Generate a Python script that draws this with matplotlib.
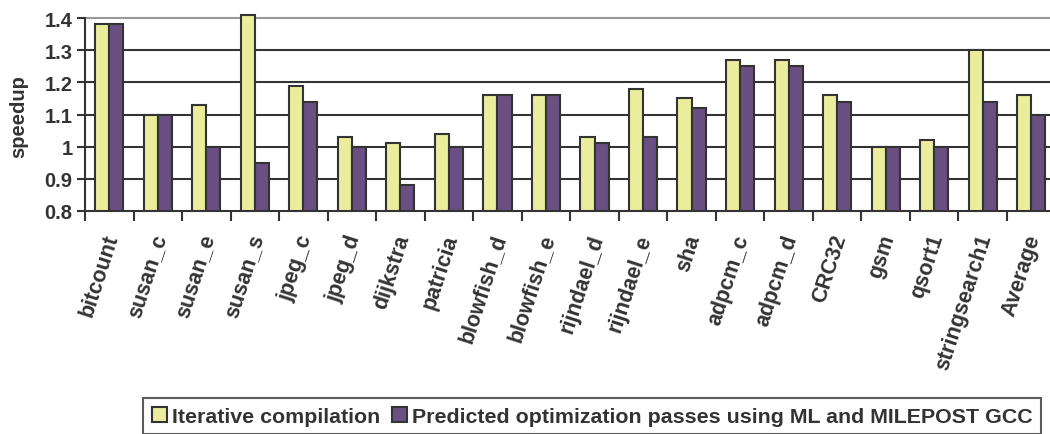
import matplotlib
matplotlib.use("Agg")
import matplotlib.pyplot as plt
import numpy as np
from matplotlib.patches import Patch
from matplotlib.transforms import ScaledTranslation

categories = ["bitcount", "susan_c", "susan_e", "susan_s", "jpeg_c", "jpeg_d",
              "dijkstra", "patricia", "blowfish_d", "blowfish_e", "rijndael_d",
              "rijndael_e", "sha", "adpcm_c", "adpcm_d", "CRC32", "gsm", "qsort1",
              "stringsearch1", "Average"]
iterative = [1.38, 1.10, 1.13, 1.41, 1.19, 1.03, 1.01, 1.04, 1.16, 1.16, 1.03,
             1.18, 1.15, 1.27, 1.27, 1.16, 1.00, 1.02, 1.30, 1.16]
predicted = [1.38, 1.10, 1.00, 0.95, 1.14, 1.00, 0.88, 1.00, 1.16, 1.16, 1.01,
             1.03, 1.12, 1.25, 1.25, 1.14, 1.00, 1.00, 1.14, 1.10]
yticks = [0.8, 0.9, 1.0, 1.1, 1.2, 1.3, 1.4]
yticklabels = ["0.8", "0.9", "1", "1.1", "1.2", "1.3", "1.4"]
series_names = ["Iterative compilation",
                "Predicted optimization passes using ML and MILEPOST GCC"]

plt.rcParams['font.family'] = ['Liberation Sans', 'DejaVu Sans']
plt.rcParams['font.weight'] = 'bold'

W, H = 1050, 435
fig = plt.figure(figsize=(W / 100, H / 100), dpi=100)
ymin, ymax = 0.8, 1.42
px_per_unit = (212 - 19) / 0.6
left, right, bottom = 85, 1055.5, 212
top = bottom - (ymax - ymin) * px_per_unit
ax = fig.add_axes([left / W, 1 - bottom / H, (right - left) / W, (bottom - top) / H])

yellow = "#EAEE9C"
purple = "#6A4F82"
edge = "#333333"
txt = "#333333"

x = np.arange(len(categories))
bw = 0.29
ax.bar(x - bw / 2, iterative, bw, color=yellow, edgecolor=edge,
       linewidth=1.5, zorder=3)
ax.bar(x + bw / 2, predicted, bw, color=purple, edgecolor=edge,
       linewidth=1.5, zorder=3)

ax.set_ylim(ymin, ymax)
ax.set_xlim(-0.5, len(categories) - 0.5)

for yv in yticks[1:-1]:
    ax.axhline(yv, color="#333333", linewidth=1.5, zorder=1)
ax.axhline(1.4, color="#999999", linewidth=1.5, zorder=1)

ax.set_yticks(yticks)
ax.set_yticklabels(yticklabels, fontsize=14.5, fontweight='bold', color=txt)
ax.tick_params(axis='y', direction='out', length=6, width=1.5, color=edge, pad=3)

ax.set_xticks(np.arange(len(categories) + 1) - 0.5)
ax.set_xticklabels([])
ax.tick_params(axis='x', direction='out', length=7, width=1.5, color=edge)
ax.set_xticks(x, minor=True)
ax.set_xticklabels(categories, minor=True, rotation=72, ha='right', va='center',
                   rotation_mode='anchor', fontsize=15.5, fontweight='bold',
                   color=txt)
ax.tick_params(axis='x', which='minor', length=0, pad=17)
shift = ScaledTranslation(3 / 100, 0, fig.dpi_scale_trans)
for lab in ax.get_xticklabels(minor=True):
    lab.set_transform(lab.get_transform() + shift)

for s in ['top', 'right']:
    ax.spines[s].set_visible(False)
for s in ['left', 'bottom']:
    ax.spines[s].set_color(edge)
    ax.spines[s].set_linewidth(1.5)
    ax.spines[s].set_zorder(4)
ax.spines['left'].set_bounds(0.8, 1.4)

fig.text(19 / W, 1 - 117 / H, "speedup", rotation=90, ha='center', va='center',
         fontsize=14.5, fontweight='bold', color=txt)

handles = [Patch(facecolor=yellow, edgecolor=edge, linewidth=1.5),
           Patch(facecolor=purple, edgecolor=edge, linewidth=1.5)]
leg = fig.legend(handles, series_names, loc='upper left',
                 bbox_to_anchor=(143 / W, 1 - 399 / H), ncol=2,
                 prop={'size': 15.4, 'weight': 'bold'},
                 handlelength=0.7, handleheight=0.7, handletextpad=0.25,
                 columnspacing=0.55, fancybox=False, borderaxespad=0,
                 borderpad=0.4, frameon=True)
leg.get_frame().set_edgecolor(edge)
leg.get_frame().set_linewidth(1.5)
for t in leg.get_texts():
    t.set_color(txt)

fig.savefig("out.png", dpi=100)
